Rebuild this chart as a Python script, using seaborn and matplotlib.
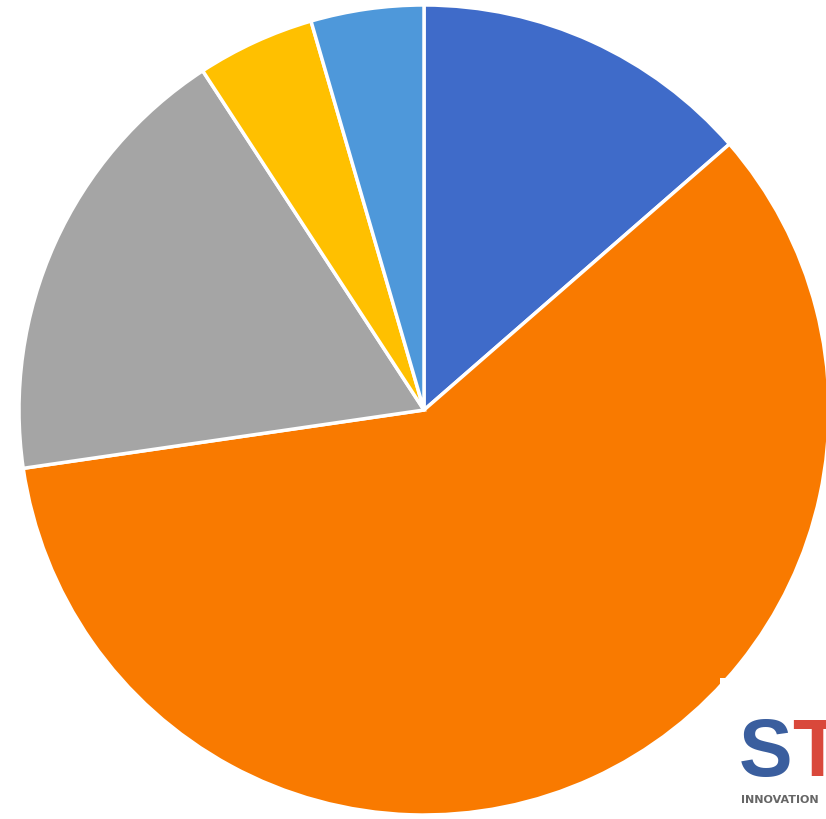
import matplotlib
matplotlib.use("Agg")
import matplotlib.pyplot as plt
import seaborn as sns
from matplotlib.patches import Rectangle

sns.set_theme(style="white")
plt.rcParams['font.family'] = ['DejaVu Sans']

labels = ["A", "B", "C", "D", "E"]
values = [13.6, 59.1, 18.1, 4.7, 4.5]
colors = ["#3F6BC9", "#F97A00", "#A5A5A5", "#FFC000", "#4E98DA"]

W, H = 826, 819
fig = plt.figure(figsize=(W / 100, H / 100), dpi=100)
fig.patch.set_facecolor("white")
R = 405
cx, cy = 424, 410
ax = fig.add_axes([(cx - R) / W, (H - cy - R) / H, 2 * R / W, 2 * R / H])
ax.pie(values, colors=colors, startangle=90, counterclock=False, radius=1.0,
       wedgeprops=dict(edgecolor="white", linewidth=2.5))
ax.set_xlim(-1, 1)
ax.set_ylim(-1, 1)
ax.set_axis_off()

# logo box
fig.add_artist(Rectangle((720 / W, 0), (W - 720) / W, (H - 678) / H,
                         transform=fig.transFigure, facecolor="white",
                         edgecolor="none", zorder=5))
fig.text(739 / W, 1 - 776 / H, "S", color="#3A5E9E", fontsize=58,
         ha="left", va="baseline", zorder=6, family="Liberation Sans",
         fontweight="bold")
fig.text(792 / W, 1 - 776 / H, "T", color="#D9483B", fontsize=58,
         ha="left", va="baseline", zorder=6, family="Liberation Sans",
         fontweight="bold")
fig.text(741 / W, 1 - 803 / H, "INNOVATION", color="#666666", fontsize=8,
         fontweight="bold", ha="left", va="baseline", zorder=6)

fig.savefig("out.png", dpi=100, facecolor="white")
